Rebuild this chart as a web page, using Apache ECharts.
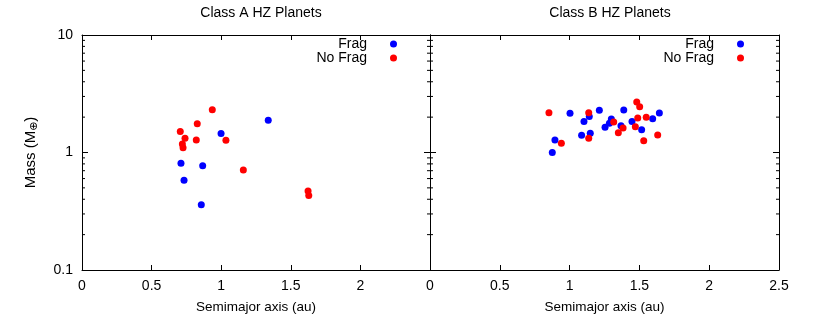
<!DOCTYPE html>
<html>
<head>
<meta charset="utf-8">
<script src="https://cdn.jsdelivr.net/npm/echarts@6/dist/echarts.min.js"></script>
<style>
  html, body { margin: 0; padding: 0; background: #fff; }
  #chart { width: 822px; height: 320px; }
</style>
</head>
<body>
<div id="chart"></div>
<script>
// [semimajor axis (au), mass (M_earth)]
const classAFrag = [
    [1.338, 1.88], [0.999, 1.45], [0.711, 0.81], [0.867, 0.77], [0.733, 0.58], [0.857, 0.36]
];
const classANoFrag = [
    [0.936, 2.31], [0.828, 1.76], [0.706, 1.51], [0.740, 1.32], [0.821, 1.28], [1.034, 1.27],
    [0.721, 1.18], [0.726, 1.10], [1.159, 0.71], [1.624, 0.47], [1.629, 0.43]
];
const classBFrag = [
    [1.003, 2.16], [1.103, 1.84], [1.141, 2.02], [1.213, 2.29], [1.086, 1.40], [1.148, 1.46],
    [0.895, 1.28], [0.876, 1.00], [1.254, 1.64], [1.285, 1.77], [1.299, 1.93], [1.368, 1.69],
    [1.388, 2.30], [1.447, 1.84], [1.516, 1.56], [1.595, 1.94], [1.643, 2.17]
];
const classBNoFrag = [
    [0.852, 2.18], [1.137, 2.18], [0.941, 1.20], [1.137, 1.32], [1.316, 1.82], [1.349, 1.47],
    [1.383, 1.62], [1.481, 2.69], [1.502, 2.45], [1.488, 1.97], [1.549, 2.00], [1.471, 1.66],
    [1.531, 1.26], [1.631, 1.41]
];
const panelTitles = ['Class A HZ Planets', 'Class B HZ Planets'];
const legendNames = ['Frag', 'No Frag'];
// minor ticks of the log mass axis
const massMinorTicks = [0.2, 0.3, 0.4, 0.5, 0.6, 0.7, 0.8, 0.9, 2, 3, 4, 5, 6, 7, 8, 9];

const FONT = 'Liberation Sans';
const axisLine = { show: true, onZero: false, lineStyle: { color: '#000', width: 1 } };

function xAxisPair(grid, hideLast) {
    const base = {
        gridIndex: grid, type: 'value', min: 0, max: 2.5, interval: 0.5,
        axisLine: axisLine, splitLine: { show: false },
        axisTick: { show: true, inside: true, length: 5, lineStyle: { color: '#000' } }
    };
    return [
        Object.assign({}, base, {
            position: 'bottom',
            axisLabel: {
                color: '#000', fontFamily: FONT, fontSize: 14, margin: 9,
                formatter: v => (hideLast && v === 2.5) ? '' : String(v)
            },
            name: 'Semimajor axis (au)', nameLocation: 'middle', nameGap: 30,
            nameTextStyle: { color: '#000', fontFamily: FONT, fontSize: 13.5 }
        }),
        Object.assign({}, base, { position: 'top', axisLabel: { show: false } })
    ];
}

function yAxis(grid, pos, labels) {
    const a = {
        gridIndex: grid, type: 'log', logBase: 10, min: 0.1, max: 10, position: pos,
        axisLine: axisLine, splitLine: { show: false },
        axisTick: { show: true, inside: true, length: 6, lineStyle: { color: '#000' } },
        axisLabel: { show: labels, color: '#000', fontFamily: FONT, fontSize: 14, margin: 9 }
    };
    if (labels) {
        a.name = '{t|Mass (M}{s|⊕}{t|)}';
        a.nameLocation = 'middle';
        a.nameGap = 42;
        a.nameRotate = 90;
        a.nameTextStyle = {
            rich: {
                t: { color: '#000', fontFamily: FONT, fontSize: 15 },
                s: { color: '#000', fontFamily: 'DejaVu Sans', fontSize: 11, padding: [7, 0, 0, 0] }
            }
        };
    }
    return a;
}

function scatter(name, data, xi, yi, color) {
    return {
        name: name, type: 'scatter', data: data, xAxisIndex: xi, yAxisIndex: yi,
        symbol: 'circle', symbolSize: 7, itemStyle: { color: color, opacity: 1 }, silent: true
    };
}

function minorTicks(xi, yi) {
    return {
        type: 'custom', xAxisIndex: xi, yAxisIndex: yi, silent: true, clip: false,
        data: massMinorTicks.map(v => [0, v]),
        renderItem: function (params, api) {
            const v = api.value(1);
            const l = api.coord([0, v]);
            const r = api.coord([2.5, v]);
            const st = { stroke: '#000', lineWidth: 1 };
            return {
                type: 'group', children: [
                    { type: 'line', shape: { x1: l[0], y1: l[1], x2: l[0] + 3, y2: l[1] }, style: st },
                    { type: 'line', shape: { x1: r[0] - 3, y1: r[1], x2: r[0], y2: r[1] }, style: st }
                ]
            };
        }
    };
}

function legend(right) {
    return {
        data: legendNames, orient: 'vertical', align: 'right', right: right, top: 32,
        icon: 'circle', itemWidth: 7, itemHeight: 7, itemGap: 0,
        selectedMode: false,
        textStyle: { color: '#000', fontFamily: FONT, fontSize: 14, lineHeight: 13, padding: [0, 18, 0, 0] }
    };
}

const option = {
    animation: false,
    backgroundColor: '#fff',
    title: [
        { text: panelTitles[0], left: 256, top: 1, textAlign: 'center',
          textStyle: { color: '#000', fontFamily: FONT, fontSize: 14, fontWeight: 'normal' } },
        { text: panelTitles[1], left: 605, top: 1, textAlign: 'center',
          textStyle: { color: '#000', fontFamily: FONT, fontSize: 14, fontWeight: 'normal' } }
    ],
    legend: [legend(420), legend(73)],
    grid: [
        { left: 82, top: 35, width: 348, height: 235 },
        { left: 430, top: 35, width: 349, height: 235 }
    ],
    xAxis: xAxisPair(0, true).concat(xAxisPair(1, false)),
    yAxis: [yAxis(0, 'left', true), yAxis(0, 'right', false), yAxis(1, 'left', false), yAxis(1, 'right', false)],
    series: [
        minorTicks(0, 0), minorTicks(2, 2),
        scatter('Frag', classAFrag, 0, 0, '#0000ff'),
        scatter('No Frag', classANoFrag, 0, 0, '#ff0000'),
        scatter('Frag', classBFrag, 2, 2, '#0000ff'),
        scatter('No Frag', classBNoFrag, 2, 2, '#ff0000')
    ]
};

const myChart = echarts.init(document.getElementById('chart'), null, { renderer: 'canvas' });
myChart.setOption(option);
window.addEventListener('resize', function () {
    myChart.resize();
});
</script>
</body>
</html>
